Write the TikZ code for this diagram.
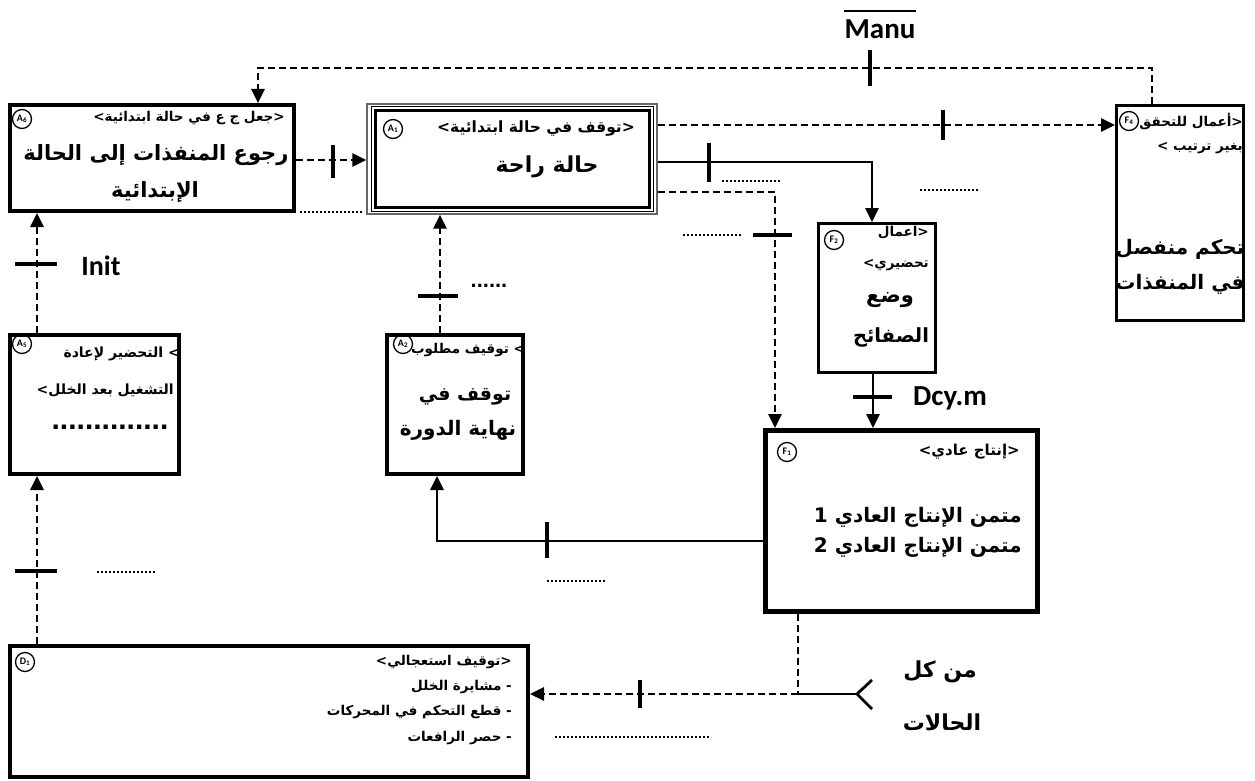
\documentclass[tikz,border=0pt]{standalone}
\usepackage{fontspec}
\usetikzlibrary{arrows.meta}
\setmainfont{Carlito}
\newfontfamily\arabicfont[Script=Arabic]{DejaVu Sans}
\newfontfamily\dotsfont{Liberation Sans}
\TeXXeTstate=1
\newcommand\AR[1]{{\arabicfont\bfseries\beginR #1\endR}}
\begin{document}
\begin{tikzpicture}[x=1pt,y=-1pt,
 bx/.style={draw, inner sep=0pt},
 hdr/.style={font=\fontsize{13.5}{15}\selectfont, inner sep=0pt},
 ttl/.style={font=\fontsize{21}{26}\selectfont, inner sep=0pt},
 circ/.style={draw, circle, line width=1.3pt, minimum size=19pt, inner sep=0pt, font=\fontsize{10}{10}\selectfont\bfseries},
 dsh/.style={line width=2.8pt, dash pattern=on 7pt off 4pt},
 sol/.style={line width=2.8pt},
 tick/.style={line width=3.5pt},
 dots/.style={line width=1.3pt, dash pattern=on 2pt off 2pt},
 tip/.style={-{Triangle[length=14pt,width=13pt]}},
 lat/.style={font=\fontsize{29}{29}\selectfont\bfseries, inner sep=0pt}]
\useasboundingbox (0,0) rectangle (1255,781);
% boxes
\node[bx, line width=4pt, minimum width=284pt, minimum height=106pt] (A6) at (152,158) {};
\node[bx, line width=1.2pt, draw=black!60, minimum width=290pt, minimum height=110pt] (A1) at (512,159) {};
\draw[line width=1pt] (371,107) rectangle (653,211);
\draw[line width=3pt] (375,111) rectangle (649,207);
\node[bx, line width=3pt, minimum width=127pt, minimum height=215pt] (F4) at (1180,213) {};
\node[bx, line width=3pt, minimum width=117pt, minimum height=149pt] (F2) at (877,298) {};
\node[bx, line width=4pt, minimum width=169pt, minimum height=139pt] (A5) at (94.5,404.5) {};
\node[bx, line width=4pt, minimum width=136pt, minimum height=139pt] (A2) at (455,404.5) {};
\node[bx, line width=5pt, minimum width=272pt, minimum height=181pt] (F1) at (901.5,521) {};
\node[bx, line width=4pt, minimum width=518pt, minimum height=131pt] (D1) at (269,711.5) {};
% circles
\node[circ] (cA6) at (22,119) {A\textsubscript{6}};
\node[circ] (cA1) at (393,129) {A\textsubscript{1}};
\node[circ] (cF4) at (1129,121) {F\textsubscript{4}};
\node[circ] (cF2) at (834,240) {F\textsubscript{2}};
\node[circ] (cA5) at (22,344) {A\textsubscript{5}};
\node[circ] (cA2) at (403,344) {A\textsubscript{2}};
\node[circ] (cF1) at (787,452) {F\textsubscript{1}};
\node[circ] (cD1) at (25,662) {D\textsubscript{1}};
% texts
\node[hdr] (tA6h) at (189,118) {\AR{<جعل  ج ع في حالة ابتدائية>}};
\node[ttl] (tA6a) at (156,155) {\AR{رجوع المنفذات إلى الحالة}};
\node[ttl] (tA6b) at (155,192) {\AR{الإبتدائية}};
\node[hdr, font=\fontsize{15.5}{17}\selectfont] (tA1h) at (536,129) {\AR{<توقف في حالة ابتدائية>}};
\node[ttl, font=\fontsize{22}{26}\selectfont] (tA1t) at (547,167) {\AR{حالة راحة}};
\node[hdr, anchor=east] (tF4a) at (1243,121) {\AR{<أعمال للتحقق}};
\node[hdr, anchor=east] (tF4b) at (1243,148) {\AR{بغير ترتيب >}};
\node[ttl, font=\fontsize{20}{24}\selectfont] (tF4c) at (1180,249) {\AR{تحكم منفصل}};
\node[ttl, font=\fontsize{20}{24}\selectfont] (tF4d) at (1180,284) {\AR{في المنفذات}};
\node[hdr, anchor=east] (tF2a) at (929,233) {\AR{<اعمال}};
\node[hdr, anchor=east] (tF2b) at (929,265) {\AR{تحضيري>}};
\node[ttl] (tF2c) at (890,300) {\AR{وضع}};
\node[ttl, font=\fontsize{19.5}{24}\selectfont] (tF2d) at (891,337) {\AR{الصفائح}};
\node[hdr, font=\fontsize{14}{16}\selectfont, anchor=east] (tA5a) at (180,354) {\AR{> التحضير لإعادة}};
\node[hdr, font=\fontsize{14}{16}\selectfont, anchor=east] (tA5b) at (174,390) {\AR{التشغيل بعد الخلل>}};
\node[inner sep=0pt, font=\dotsfont\bfseries\fontsize{30}{30}\selectfont] (tA5c) at (110,427) {..............};
\node[hdr] (tA2h) at (468,350) {\AR{> توقيف مطلوب}};
\node[ttl, font=\fontsize{19}{24}\selectfont] (tA2a) at (465,397) {\AR{توقف في}};
\node[ttl, font=\fontsize{20}{24}\selectfont] (tA2b) at (458,430) {\AR{نهاية الدورة}};
\node[hdr, font=\fontsize{15}{17}\selectfont, anchor=east] (tF1h) at (1020,452) {\AR{<إنتاج عادي>}};
\node[font=\fontsize{20}{22}\selectfont, inner sep=0pt, anchor=east] (tF1a) at (1022,517) {\AR{متمن الإنتاج العادي 1}};
\node[font=\fontsize{20}{22}\selectfont, inner sep=0pt, anchor=east] (tF1b) at (1022,547) {\AR{متمن الإنتاج العادي 2}};
\node[hdr, anchor=east] (tD1a) at (512,662) {\AR{<توقيف استعجالي>}};
\node[hdr, anchor=east] (tD1b) at (512,687) {\AR{- مشايرة الخلل}};
\node[hdr, anchor=east] (tD1c) at (512,712) {\AR{- قطع التحكم في المحركات}};
\node[hdr, anchor=east] (tD1d) at (512,738) {\AR{- حصر الرافعات}};
\node[ttl, font=\fontsize{22}{26}\selectfont] (tAll1) at (940,672) {\AR{من كل}};
\node[ttl, font=\fontsize{22}{26}\selectfont] (tAll2) at (942,722) {\AR{الحالات}};
% latin labels
\node[lat] (manu) at (880,29) {Manu};
\draw[line width=2.4pt] ([yshift=8pt]manu.north west) -- ([yshift=8pt]manu.north east);
\node[lat, font=\fontsize{28}{28}\selectfont\bfseries] (init) at (101,266) {Init};
\node[lat] (dcy) at (950,398) {Dcy.m};
\node[inner sep=0pt, font=\dotsfont\bfseries\fontsize{22}{22}\selectfont] (dotsA2) at (489,286) {......};
% coordinates
\coordinate (m1) at (1152,68);
\coordinate (m2) at (258,68);
\coordinate (y160) at (0,160);
\coordinate (y125) at (0,125);
\coordinate (b1) at (872,162);
\coordinate (b2) at (775,192);
\coordinate (b3) at (437,541);
\coordinate (xA2) at (440,0);
\coordinate (xA5) at (37,0);
\coordinate (j) at (798,694);
\coordinate (fk) at (857,694);
\coordinate (fa) at (872,680);
\coordinate (fb) at (872,709);
% connectors
\draw[dsh, tip] (m1 |- F4.north) -- (m1) -- (m2) -- (m2 |- A6.north);
\draw[tick] (870,50) -- (870,86);
\draw[dsh, tip] (A6.east |- y160) -- (A1.west |- y160);
\draw[tick] (333,145) -- (333,178);
\draw[dsh, tip] (A1.east |- y125) -- (F4.west |- y125);
\draw[tick] (943,110) -- (943,140);
\draw[sol, tip] (A1.east |- b1) -- (b1) -- (b1 |- F2.north);
\draw[tick] (709,143) -- (709,182);
\draw[dsh, tip] (A1.east |- b2) -- (b2) -- (b2 |- F1.north);
\draw[tick] (753,235) -- (792,235);
\draw[sol, tip] (F2.south -| 873,0) -- (F1.north -| 873,0);
\draw[tick] (853,397) -- (892,397);
\draw[sol, tip] (F1.west |- b3) -- (b3) -- (b3 |- A2.south);
\draw[tick] (547,522) -- (547,558);
\draw[dsh, tip] (xA2 |- A2.north) -- (xA2 |- A1.south);
\draw[tick] (418,296) -- (458,296);
\draw[dsh, tip] (xA5 |- A5.north) -- (xA5 |- A6.south);
\draw[tick] (15,264) -- (57,264);
\draw[dsh, tip] (xA5 |- D1.north) -- (xA5 |- A5.south);
\draw[tick] (15,571) -- (57,571);
\draw[dsh] (j |- F1.south) -- (j);
\draw[sol] (j) -- (fk);
\draw[sol] (fa) -- (fk) -- (fb);
\draw[dsh, tip] (j) -- (D1.east |- j);
\draw[tick] (640,680) -- (640,708);
% dotted placeholders
\draw[dots] (300,212) -- (364,212);
\draw[dots] (722,181) -- (781,181);
\draw[dots] (683,235) -- (741,235);
\draw[dots] (920,190) -- (980,190);
\draw[dots] (547,581) -- (606,581);
\draw[dots] (97,572) -- (155,572);
\draw[dots] (555,737) -- (711,737);
\end{tikzpicture}
\end{document}
